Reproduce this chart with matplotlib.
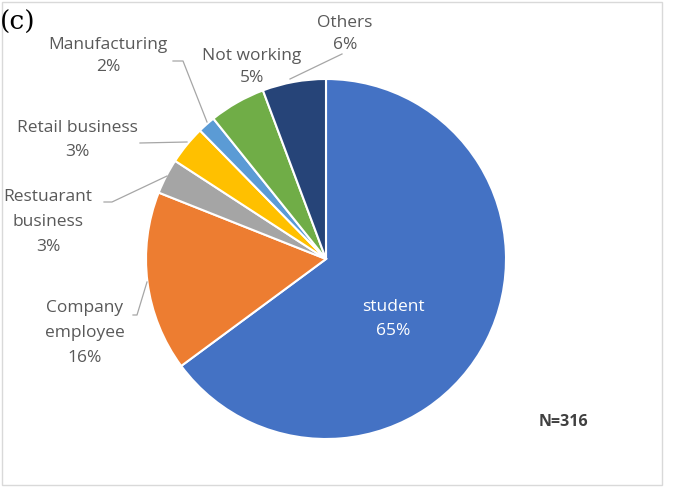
import matplotlib
matplotlib.use("Agg")
import matplotlib.pyplot as plt
import numpy as np
from matplotlib.patches import Rectangle

categories = ["student", "Company\nemployee", "Restuarant\nbusiness", "Retail business",
              "Manufacturing", "Not working", "Others"]
counts = [205, 51, 10, 11, 5, 16, 18]
pct_labels = ["65%", "16%", "3%", "3%", "2%", "5%", "6%"]
colors = ["#4472C4", "#ED7D31", "#A5A5A5", "#FFC000", "#5B9BD5", "#70AD47", "#264478"]

W, H = 674, 489
fig = plt.figure(figsize=(W / 100, H / 100), dpi=100)
fig.patch.set_facecolor("white")

# frame
fig.patches.append(Rectangle((2 / W, 3 / H), 660 / W, 483 / H, transform=fig.transFigure,
                             fill=False, edgecolor="#d9d9d9", linewidth=1))

cx, cy, r = 326, 260, 180
ax = fig.add_axes([(cx - r) / W, (H - cy - r) / H, 2 * r / W, 2 * r / H])

wedges, _ = ax.pie(counts, colors=colors, startangle=90, counterclock=False,
                   radius=1.0, wedgeprops=dict(edgecolor="white", linewidth=1.5))
ax.set_xlim(-1, 1)
ax.set_ylim(-1, 1)
ax.set_aspect("equal")
ax.axis("off")

def px(x, y):
    return ((x - cx) / r, (cy - y) / r)

font = "Open Sans"
tc = "#595959"
fs = 12.5
lc = "#a6a6a6"

# label positions (pixel centers) and line spacing
label_pos = {
    0: (393, 319, 1.7),
    1: (85, 333, 1.75),
    2: (48, 222, 1.75),
    3: (77, 140, 1.6),
    4: (108, 56, 1.55),
    5: (252, 67, 1.55),
    6: (345, 34, 1.55),
}
for i, (lx, ly, ls) in label_pos.items():
    x, y = px(lx, ly)
    txt = categories[i] + "\n" + pct_labels[i]
    ax.text(x, y, txt, ha="center", va="center", fontsize=fs, family=font,
            color="white" if i == 0 else tc, linespacing=ls, clip_on=False)

# leader lines (pixel path)
leaders = [
    [(342, 55), (290, 80)],
    [(173, 62), (183, 62), (207, 123)],
    [(140, 144), (187, 143)],
    [(104, 203), (112, 203), (167, 177)],
    [(133, 316), (137, 316), (147, 283)],
]
for path in leaders:
    pts = np.array([px(a, b) for a, b in path])
    ax.plot(pts[:, 0], pts[:, 1], color=lc, lw=0.9, clip_on=False)

fig.text(563 / W, 1 - 422 / H, "N=316", ha="center", va="center", fontsize=11.5,
         family=font, color="#404040", fontweight="bold")
fig.text(0 / W, 1 - 22 / H, "(c)", ha="left", va="center", fontsize=19,
         family="DejaVu Serif", color="black")

fig.savefig("out.png", dpi=100, facecolor="white")
